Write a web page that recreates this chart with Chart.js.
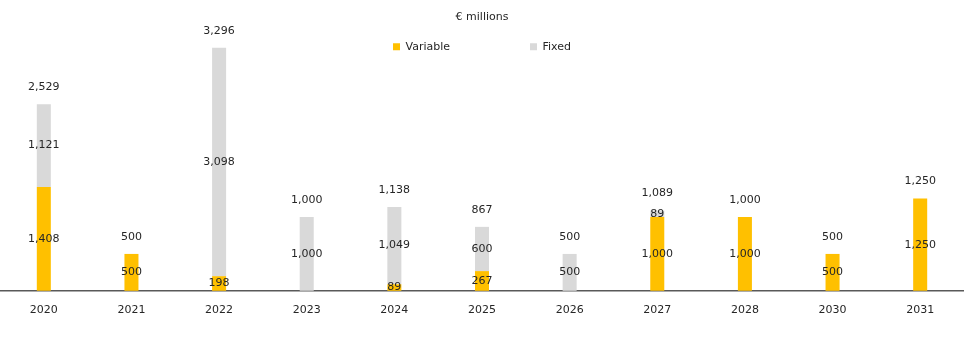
<!DOCTYPE html>
<html>
<head>
<meta charset="utf-8">
<script src="https://cdn.jsdelivr.net/npm/chart.js@4/dist/chart.umd.min.js"></script>
<style>
  body { margin: 0; background: #fff; }
  #wrap { width: 964px; height: 351px; position: relative; }
</style>
</head>
<body>
<div id="wrap"><canvas id="myChart"></canvas></div>
<script>
// data (€ millions)
var years = ['2020', '2021', '2022', '2023', '2024', '2025', '2026', '2027', '2028', '2030', '2031']
var variable = [1408, 500, 198, null, 89, 267, null, 1000, 1000, 500, 1250]
var fixed = [1121, null, 3098, 1000, 1049, 600, 500, 89, null, null, null]
var totals = [2529, 500, 3296, 1000, 1138, 867, 500, 1089, 1000, 500, 1250]

var fontFamily = "'DejaVu Sans', sans-serif"
var textColor = '#262626'

function fmt(v) {
  return v.toLocaleString('en-US')
}

// labels inside each segment and totals above each bar
var labelPlugin = {
  id: 'barLabels',
  afterDatasetsDraw: function(chart) {
    var ctx = chart.ctx
    ctx.save()
    ctx.font = '11px ' + fontFamily
    ctx.fillStyle = textColor
    ctx.textAlign = 'center'
    ctx.textBaseline = 'middle'
    var tops = []
    chart.data.datasets.forEach(function(ds, di) {
      var meta = chart.getDatasetMeta(di)
      meta.data.forEach(function(bar, i) {
        var v = ds.data[i]
        if (v == null) return
        ctx.fillText(fmt(v), bar.x, (bar.y + bar.base) / 2)
        if (tops[i] == null || bar.y < tops[i].y) tops[i] = { x: bar.x, y: bar.y }
      })
    })
    totals.forEach(function(t, i) {
      if (!tops[i]) return
      ctx.fillText(fmt(t), tops[i].x, tops[i].y - 17)
    })
    ctx.restore()
  }
}

var mychart = document.getElementById('myChart').getContext('2d')

var chart = new Chart(mychart, {
  type: 'bar',
  data: {
    labels: years,
    datasets: [{
      label: 'Variable',
      data: variable,
      backgroundColor: '#FFC000',
      clip: false
    },
    {
      label: 'Fixed',
      data: fixed,
      backgroundColor: '#D9D9D9',
      clip: false
    }]
  },
  options: {
    responsive: true,
    maintainAspectRatio: false,
    animation: false,
    barPercentage: 0.16,
    categoryPercentage: 1,
    layout: { padding: { left: 0, right: 0, top: 0, bottom: 21 } },
    plugins: {
      tooltip: { enabled: false },
      title: {
        display: true,
        text: '€ millions',
        color: textColor,
        font: { family: fontFamily, size: 11, weight: 'normal' },
        padding: { top: 11, bottom: 7 }
      },
      legend: {
        display: true,
        labels: {
          color: textColor,
          font: { family: fontFamily, size: 11 },
          boxWidth: 7,
          boxHeight: 7,
          padding: 10,
          generateLabels: function(c) {
            var items = Chart.defaults.plugins.legend.labels.generateLabels(c)
            // widen the gap between the two legend entries
            items[0].text = items[0].text + '\u00a0'.repeat(20)
            items.forEach(function(it) { it.lineWidth = 0 })
            return items
          }
        }
      }
    },
    scales: {
      x: {
        stacked: true,
        grid: { display: false, drawTicks: false },
        border: { display: true, color: '#595959', width: 1.5 },
        ticks: {
          color: textColor,
          padding: 13,
          font: { family: fontFamily, size: 11 }
        }
      },
      y: {
        stacked: true,
        display: false,
        min: 0,
        max: 3100
      }
    }
  },
  plugins: [labelPlugin]
})
</script>
</body>
</html>
